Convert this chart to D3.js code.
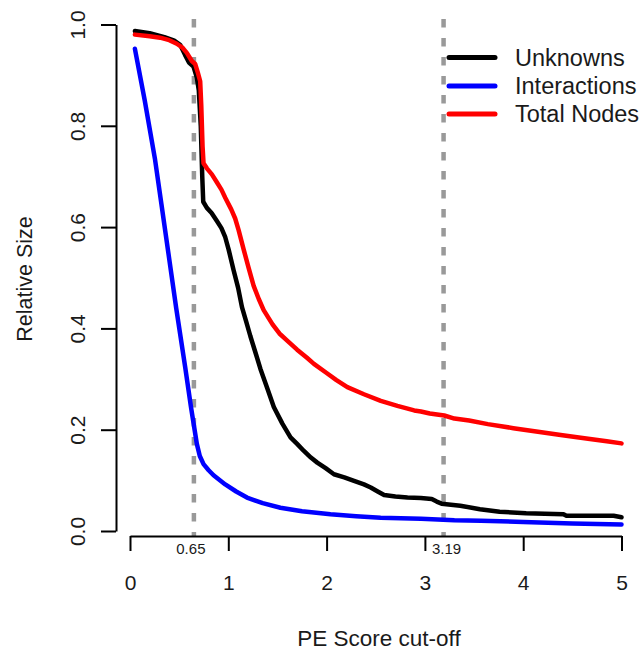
<!DOCTYPE html>
<html>
<head>
<meta charset="utf-8">
<script src="https://cdn.jsdelivr.net/npm/d3@7"></script>
<style>
  html, body { margin: 0; padding: 0; background: #fff; }
  text { font-family: "Liberation Sans", Arial, Helvetica, sans-serif; fill: #1a1a1a; }
</style>
</head>
<body>
<svg id="chart" width="642" height="651"></svg>
<script>
// ---- data ----
const unknownsX = [0.05,0.2,0.35,0.45,0.51,0.56,0.6,0.646,0.68,0.70,0.72,0.735,0.745,0.782,0.83,0.884,0.93,0.969,1.003,1.054,1.10,1.139,1.18,1.224,1.28,1.327,1.40,1.463,1.55,1.633,1.70,1.769,1.84,1.905,1.99,2.075,2.18,2.279,2.38,2.449,2.52,2.585,2.70,2.823,2.959,3.07,3.12,3.17,3.36,3.56,3.76,4.03,4.41,4.44,4.92,5.0];
const unknownsY = [0.987,0.983,0.975,0.968,0.960,0.940,0.925,0.917,0.895,0.870,0.80,0.70,0.650,0.638,0.628,0.612,0.598,0.580,0.556,0.515,0.48,0.442,0.415,0.385,0.35,0.320,0.28,0.245,0.212,0.185,0.172,0.158,0.145,0.135,0.124,0.112,0.106,0.099,0.092,0.086,0.078,0.071,0.068,0.066,0.065,0.063,0.058,0.054,0.050,0.043,0.038,0.035,0.033,0.030,0.030,0.027];

const interactionsX = [0.05,0.15,0.255,0.32,0.391,0.47,0.561,0.62,0.68,0.71,0.748,0.80,0.85,0.969,1.08,1.19,1.35,1.53,1.75,2.04,2.3,2.55,2.96,3.3,3.57,4.0,4.5,5.0];
const interactionsY = [0.952,0.85,0.733,0.645,0.548,0.44,0.324,0.245,0.172,0.148,0.132,0.120,0.110,0.092,0.078,0.066,0.055,0.046,0.039,0.033,0.029,0.026,0.024,0.021,0.020,0.018,0.015,0.013];

const totalNodesX = [0.05,0.2,0.306,0.4,0.476,0.53,0.578,0.629,0.663,0.69,0.714,0.725,0.738,0.748,0.782,0.833,0.885,0.93,0.969,1.03,1.07,1.105,1.156,1.206,1.258,1.31,1.36,1.45,1.52,1.599,1.70,1.80,1.871,2.0,2.1,2.211,2.38,2.551,2.72,2.891,2.959,3.05,3.197,3.3,3.45,3.64,3.9,4.15,4.4,4.66,4.85,5.0];
const totalNodesY = [0.980,0.977,0.974,0.969,0.962,0.955,0.944,0.928,0.922,0.905,0.888,0.84,0.76,0.726,0.716,0.704,0.688,0.674,0.658,0.635,0.617,0.594,0.556,0.52,0.484,0.458,0.436,0.408,0.39,0.376,0.358,0.342,0.330,0.312,0.298,0.284,0.27,0.257,0.247,0.238,0.236,0.232,0.228,0.222,0.218,0.211,0.203,0.196,0.189,0.182,0.177,0.173];

const seriesNames = ["Unknowns", "Interactions", "Total Nodes"];
const seriesColors = ["#000000", "#0000ff", "#ff0000"];
const cutoffLines = [0.65, 3.19];
const cutoffLabels = ["0.65", "3.19"];
const xTicks = [0, 1, 2, 3, 4, 5];
const yTicks = [0, 0.2, 0.4, 0.6, 0.8, 1.0];

// ---- layout ----
const svg = d3.select("#chart");
const x = d3.scaleLinear().domain([0, 5]).range([130, 621.5]);
const y = d3.scaleLinear().domain([0, 1]).range([531, 24.5]);

// cut-off dashed lines
svg.selectAll("line.cut").data(cutoffLines).enter().append("line")
  .attr("class", "cut")
  .attr("x1", d => x(d)).attr("x2", d => x(d))
  .attr("y1", 19).attr("y2", 536)
  .attr("stroke", "#999999").attr("stroke-width", 4.5)
  .attr("stroke-dasharray", "8.5,10.5");

// series lines
const seriesData = [
  d3.zip(unknownsX, unknownsY),
  d3.zip(interactionsX, interactionsY),
  d3.zip(totalNodesX, totalNodesY)
];
const line = d3.line().x(d => x(d[0])).y(d => y(d[1]));
// draw order: blue, black, red (red on top, as in reference)
[1, 0, 2].forEach(i => {
  svg.append("path")
    .datum(seriesData[i])
    .attr("d", line)
    .attr("fill", "none")
    .attr("stroke", seriesColors[i])
    .attr("stroke-width", 4.5)
    .attr("stroke-linejoin", "round")
    .attr("stroke-linecap", "round");
});

// y axis
const yAxis = svg.append("g").attr("transform", "translate(116,0)")
  .call(d3.axisLeft(y).tickValues(yTicks).tickFormat(d3.format(".1f")).tickSize(15).tickSizeOuter(0));
yAxis.select(".domain").attr("stroke", "#000").attr("stroke-width", 2);
yAxis.selectAll(".tick line").attr("stroke", "#000").attr("stroke-width", 2);
yAxis.selectAll(".tick text")
  .attr("x", null).attr("dy", null)
  .attr("transform", "translate(-31,0) rotate(-90)")
  .attr("text-anchor", "middle")
  .style("font-size", "21px")
  .style("font-family", "'Liberation Sans', Arial, sans-serif")
  .attr("fill", "#1a1a1a");

// x axis
const xAxis = svg.append("g").attr("transform", "translate(0,536)")
  .call(d3.axisBottom(x).tickValues(xTicks).tickFormat(d3.format("d")).tickSize(15).tickSizeOuter(0));
xAxis.select(".domain").attr("stroke", "#000").attr("stroke-width", 2);
xAxis.selectAll(".tick line").attr("stroke", "#000").attr("stroke-width", 2);
xAxis.selectAll(".tick text")
  .attr("y", 54).attr("dy", null)
  .style("font-size", "21px")
  .style("font-family", "'Liberation Sans', Arial, sans-serif")
  .attr("fill", "#1a1a1a");

// cut-off value labels
const cutOffsets = [-3, 3];
svg.selectAll("text.cutlab").data(cutoffLines).enter().append("text")
  .attr("class", "cutlab")
  .attr("x", (d, i) => x(d) + cutOffsets[i])
  .attr("y", 554)
  .attr("text-anchor", "middle")
  .style("font-size", "15px")
  .text((d, i) => cutoffLabels[i]);

// axis titles
svg.append("text")
  .attr("x", 379).attr("y", 646)
  .attr("text-anchor", "middle")
  .style("font-size", "22.5px")
  .text("PE Score cut-off");
svg.append("text")
  .attr("transform", "translate(32,279) rotate(-90)")
  .attr("text-anchor", "middle")
  .style("font-size", "21.5px")
  .text("Relative Size");

// legend
const legendY = [57.5, 86, 114];
const lg = svg.append("g");
seriesNames.forEach((name, i) => {
  lg.append("line")
    .attr("x1", 449).attr("x2", 495)
    .attr("y1", legendY[i]).attr("y2", legendY[i])
    .attr("stroke", seriesColors[i]).attr("stroke-width", 5)
    .attr("stroke-linecap", "round");
  lg.append("text")
    .attr("x", 515).attr("y", legendY[i] + 8)
    .style("font-size", "23.5px")
    .text(name);
});
</script>
</body>
</html>
